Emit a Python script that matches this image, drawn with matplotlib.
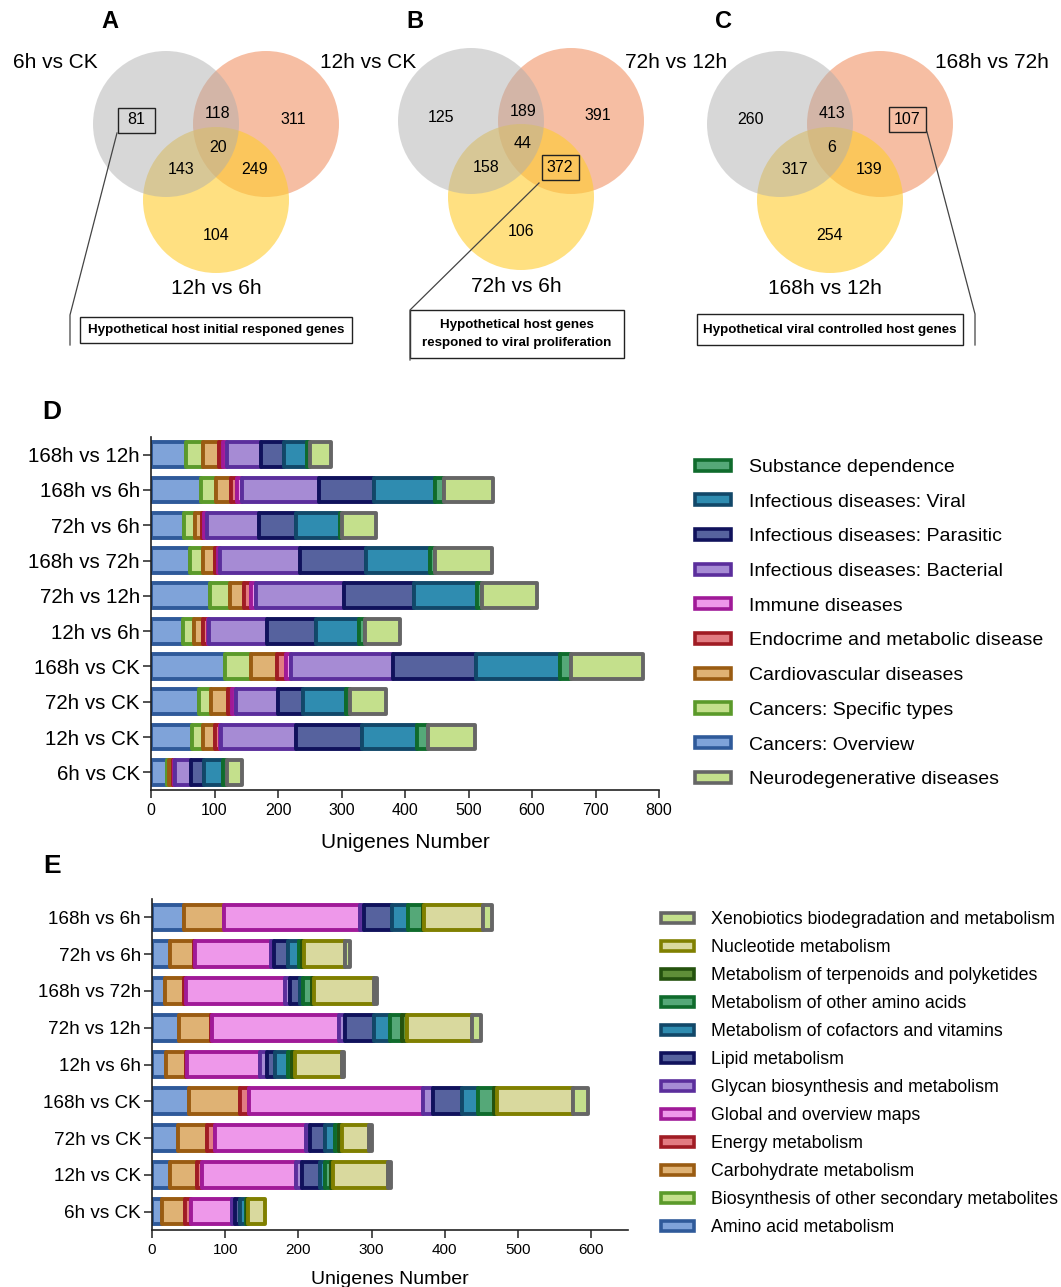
import numpy as np
import matplotlib.pyplot as plt
from matplotlib.patches import Circle, Rectangle, Patch
from matplotlib import font_manager

plt.rcParams['font.family'] = ['Liberation Sans', 'DejaVu Sans']

# ---- Venn counts: [left only, left&right, right only, all three, left&bottom, right&bottom, bottom only]
venn_a_labels = ['6h vs CK', '12h vs CK', '12h vs 6h']
venn_a_counts = [81, 118, 311, 20, 143, 249, 104]
venn_b_labels = [None, '72h vs 12h', '72h vs 6h']
venn_b_counts = [125, 189, 391, 44, 158, 372, 106]
venn_c_labels = [None, '168h vs 72h', '168h vs 12h']
venn_c_counts = [260, 413, 107, 6, 317, 139, 254]

# ---- panel D: KEGG human disease classes
d_groups = ['168h vs 12h', '168h vs 6h', '72h vs 6h', '168h vs 72h', '72h vs 12h',
            '12h vs 6h', '168h vs CK', '72h vs CK', '12h vs CK', '6h vs CK']
d_cancer_overview = [55, 78, 52, 62, 93, 51, 116, 76, 64, 25]
d_cancer_specific = [27, 24, 17, 20, 31, 17, 42, 18, 18, 4]
d_cardiovascular = [25, 24, 12, 19, 22, 14, 40, 27, 19, 5]
d_endocrime = [7, 9, 3, 5, 11, 7, 14, 6, 7, 2]
d_immune = [6, 9, 4, 3, 8, 3, 9, 7, 2, 2]
d_bacterial = [53, 120, 82, 125, 139, 91, 160, 66, 119, 25]
d_parasitic = [36, 87, 58, 105, 110, 77, 131, 40, 103, 21]
d_viral = [37, 96, 70, 101, 100, 67, 132, 67, 87, 29]
d_substance = [5, 14, 2, 8, 8, 10, 18, 7, 17, 7]
d_neuro = [32, 78, 54, 89, 86, 55, 113, 56, 74, 23]

# ---- panel E: KEGG metabolism classes
e_groups = ['168h vs 6h', '72h vs 6h', '168h vs 72h', '72h vs 12h', '12h vs 6h',
            '168h vs CK', '72h vs CK', '12h vs CK', '6h vs CK']
e_amino = [44, 25, 18, 37, 19, 51, 35, 25, 13]
e_secondary = [0, 0, 0, 0, 0, 0, 0, 0, 0]
e_carbohydrate = [54, 33, 26, 43, 28, 69, 40, 37, 32]
e_energy = [1, 1, 2, 2, 1, 13, 11, 6, 8]
e_global = [185, 104, 136, 173, 100, 238, 124, 129, 57]
e_glycan = [6, 4, 6, 9, 9, 13, 6, 8, 3]
e_lipid = [38, 19, 14, 39, 11, 40, 20, 25, 7]
e_cofactors = [22, 15, 5, 22, 18, 22, 14, 7, 9]
e_other_amino = [20, 4, 12, 17, 5, 22, 6, 8, 1]
e_terpenoids = [2, 3, 3, 6, 4, 3, 3, 3, 1]
e_nucleotide = [81, 56, 81, 89, 64, 105, 38, 75, 23]
e_xeno = [11, 6, 5, 13, 3, 20, 3, 4, 0]

# colour pairs (face, edge)
BLUE = ('#7fa3d9', '#2f5a9a')
LGREEN = ('#c4e08c', '#5b9a2a')
ORANGE = ('#dfb274', '#9a5c12')
RED = ('#e27c82', '#a01c24')
MAGENTA = ('#ee98ea', '#a01a98')
PURPLE = ('#a68bd4', '#5b2e9c')
NAVY = ('#56629e', '#10125c')
TEAL = ('#2f8cb0', '#124869')
GREEN = ('#55a878', '#0f6b2c')
NEURO = ('#c4e08c', '#666666')
TERP = ('#5f8f38', '#24520e')
OLIVE = ('#d9d99e', '#808000')

d_series = [
    ('Cancers: Overview', d_cancer_overview, BLUE),
    ('Cancers: Specific types', d_cancer_specific, LGREEN),
    ('Cardiovascular diseases', d_cardiovascular, ORANGE),
    ('Endocrime and metabolic disease', d_endocrime, RED),
    ('Immune diseases', d_immune, MAGENTA),
    ('Infectious diseases: Bacterial', d_bacterial, PURPLE),
    ('Infectious diseases: Parasitic', d_parasitic, NAVY),
    ('Infectious diseases: Viral', d_viral, TEAL),
    ('Substance dependence', d_substance, GREEN),
    ('Neurodegenerative diseases', d_neuro, NEURO),
]
d_legend_order = [8, 7, 6, 5, 4, 3, 2, 1, 0, 9]

e_series = [
    ('Amino acid metabolism', e_amino, BLUE),
    ('Biosynthesis of other secondary metabolites', e_secondary, LGREEN),
    ('Carbohydrate metabolism', e_carbohydrate, ORANGE),
    ('Energy metabolism', e_energy, RED),
    ('Global and overview maps', e_global, MAGENTA),
    ('Glycan biosynthesis and metabolism', e_glycan, PURPLE),
    ('Lipid metabolism', e_lipid, NAVY),
    ('Metabolism of cofactors and vitamins', e_cofactors, TEAL),
    ('Metabolism of other amino acids', e_other_amino, GREEN),
    ('Metabolism of terpenoids and polyketides', e_terpenoids, TERP),
    ('Nucleotide metabolism', e_nucleotide, OLIVE),
    ('Xenobiotics biodegradation and metabolism', e_xeno, NEURO),
]
e_legend_order = list(range(11, -1, -1))

W, H = 1061, 1287
fig = plt.figure(figsize=(W / 100, H / 100), dpi=100)


def fig_rect(x0, y0, x1, y1):
    # pixel box (top-left origin) -> figure fraction rect
    return [x0 / W, 1 - y1 / H, (x1 - x0) / W, (y1 - y0) / H]


# ================= Venn diagrams =================
av = fig.add_axes(fig_rect(0, 0, W, 370))
av.set_xlim(0, W)
av.set_ylim(370, 0)
av.axis('off')

R = 73
circle_cols = [('#adadad', 0.48), ('#f08a58', 0.55), ('#ffcc2e', 0.6)]

narrow = any(f.name == 'Liberation Sans Narrow' for f in font_manager.fontManager.ttflist)
note_family = ['Liberation Sans Narrow', 'Liberation Sans'] if narrow else ['Liberation Sans']
note_fs = 11 if narrow else 9.6


def venn(cx, cy, counts, labels, letter, boxed, callout, note, note_box, label_pos):
    centers = [(cx - 50, cy), (cx + 50, cy), (cx, cy + 76)]
    for (x, y), (c, a), z in zip(centers, circle_cols, [3, 1, 2]):
        av.add_patch(Circle((x, y), R, facecolor=c, alpha=a, edgecolor='none', zorder=z))
    offs = [(-80, -4), (2, -10), (77, -5), (2, 23), (-35, 46), (39, 46), (0, 111)]
    for i, (n, (dx, dy)) in enumerate(zip(counts, offs)):
        av.text(cx + dx, cy + dy, str(n), ha='center', va='center', fontsize=11.5, zorder=5)
        if i == boxed:
            av.add_patch(Rectangle((cx + dx - 18.5, cy + dy - 12.5), 37, 25, fill=False,
                                   edgecolor='#222222', lw=1.0, zorder=5))
    av.text(cx - 106, 22, letter, fontsize=17, fontweight='bold', ha='center', va='center')
    for lab, (x, y, ha) in zip(labels, label_pos):
        if lab:
            av.text(x, y, lab, fontsize=15, ha=ha, va='center', zorder=6)
    av.plot([p[0] for p in callout], [p[1] for p in callout], color='#444444', lw=0.9, zorder=6)
    x0, y0, x1, y1 = note_box
    av.add_patch(Rectangle((x0, y0), x1 - x0, y1 - y0, fill=False, edgecolor='#222222', lw=1.0))
    av.text((x0 + x1) / 2, (y0 + y1) / 2, note, ha='center', va='center', fontsize=note_fs,
            fontweight='bold', family=note_family, linespacing=1.65)


venn(216, 124, venn_a_counts, venn_a_labels, 'A', 0,
     [(117, 133), (70, 315), (70, 345)],
     'Hypothetical host initial responed genes', (80, 317, 352, 343),
     [(13, 63, 'left'), (320, 63, 'left'), (216, 288, 'center')])
venn(521, 121, venn_b_counts, venn_b_labels, 'B', 5,
     [(539, 183), (410, 310), (410, 360)],
     'Hypothetical host genes\nresponed to viral proliferation', (410, 310, 624, 358),
     [(0, 0, 'left'), (625, 63, 'left'), (516, 287, 'center')])
venn(830, 124, venn_c_counts, venn_c_labels, 'C', 2,
     [(927, 132), (975, 314), (975, 345)],
     'Hypothetical viral controlled host genes', (697, 314, 963, 345),
     [(0, 0, 'left'), (935, 63, 'left'), (825, 288, 'center')])


# ================= stacked bar panels =================
def stacked(ax, groups, series, xmax, ticksize, labsize, xlabsize, xlabpad):
    y = np.arange(len(groups))
    left = np.zeros(len(groups))
    for name, vals, (fc, ec) in series:
        vals = np.asarray(vals, dtype=float)
        m = vals > 0
        ax.barh(y[m], vals[m], left=left[m], height=0.7, color=fc, edgecolor=ec,
                linewidth=2.8, joinstyle='round', label=name)
        left += vals
    ax.set_yticks(y)
    ax.set_yticklabels(groups, fontsize=labsize)
    ax.set_ylim(len(groups) - 0.5, -0.5)
    ax.set_xlim(0, xmax)
    ax.set_xticks(np.arange(0, xmax + 1, 100))
    ax.tick_params(axis='x', labelsize=ticksize, length=6, width=1.1, color='#222222')
    ax.tick_params(axis='y', length=6, width=1.1, color='#222222', pad=2)
    for s in ['top', 'right']:
        ax.spines[s].set_visible(False)
    for s in ['left', 'bottom']:
        ax.spines[s].set_linewidth(1.2)
        ax.spines[s].set_color('#222222')
    ax.set_xlabel('Unigenes Number', fontsize=xlabsize, labelpad=xlabpad)


def legend(ax, series, order, anchor_px, fs, spacing):
    handles = [Patch(facecolor=series[i][2][0], edgecolor=series[i][2][1], linewidth=2.6,
                     label=series[i][0]) for i in order]
    ax.legend(handles=handles, loc='upper left', frameon=False, fontsize=fs,
              bbox_to_anchor=(anchor_px[0] / W, 1 - anchor_px[1] / H),
              bbox_transform=fig.transFigure, borderpad=0, borderaxespad=0,
              handlelength=1.85, handleheight=0.5, handletextpad=0.95, labelspacing=spacing)


axd = fig.add_axes(fig_rect(151, 437, 659, 790))
stacked(axd, d_groups, d_series, 800, 11.5, 14.8, 15, 11)
legend(axd, d_series, d_legend_order, (695, 459), 14, 0.91)
fig.text(52 / W, 1 - 412 / H, 'D', fontsize=19, fontweight='bold', ha='center', va='center')

axe = fig.add_axes(fig_rect(152, 899, 627.6, 1230))
stacked(axe, e_groups, e_series, 650, 11, 13.6, 14, 10)
legend(axe, e_series, e_legend_order, (661, 911), 12.8, 0.62)
fig.text(52 / W, 1 - 866 / H, 'E', fontsize=19, fontweight='bold', ha='center', va='center')

fig.savefig('out.png', dpi=100)
